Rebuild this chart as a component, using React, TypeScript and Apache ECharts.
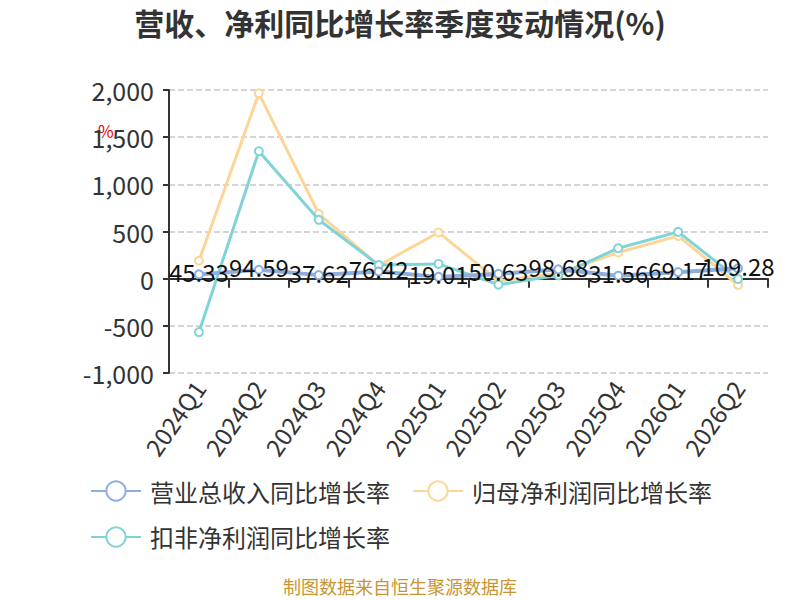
import React, { useEffect, useRef } from "react";
import * as echarts from "echarts";

const categories = ["2024Q1", "2024Q2", "2024Q3", "2024Q4", "2025Q1", "2025Q2", "2025Q3", "2025Q4", "2026Q1", "2026Q2"];
const revenueGrowth = [45.33, 94.59, 37.62, 76.42, 19.01, 50.63, 98.68, 31.56, 69.17, 109.28];
const netProfitGrowth = [190, 1965, 688, 140, 490, -25, 57, 277, 454, -67];
const deductedProfitGrowth = [-567, 1351, 624, 145, 156, -64, 35, 323, 496, -4];
const seriesNames = ["营业总收入同比增长率", "归母净利润同比增长率", "扣非净利润同比增长率"];
const titleText = "营收、净利同比增长率季度变动情况(%)";
const sourceText = "制图数据来自恒生聚源数据库";

const FONT = "'Noto Sans CJK SC', 'Noto Sans', sans-serif";

export default function App() {
  const ref = useRef<HTMLDivElement>(null);
  useEffect(() => {
    if (!ref.current) return;
    const chart = echarts.init(ref.current, undefined, { renderer: "svg" });
    chart.setOption({
      animation: false,
      backgroundColor: "#fff",
      textStyle: { fontFamily: FONT },
      title: {
        text: titleText,
        left: "center",
        top: 6,
        padding: 0,
        textStyle: { fontSize: 30, lineHeight: 32, fontWeight: "bold", color: "#333", fontFamily: FONT },
      },
      legend: {
        left: 85,
        top: 474,
        width: 650,
        itemWidth: 50,
        itemHeight: 24,
        itemGap: 22,
        textStyle: { fontSize: 24, color: "#333", fontFamily: FONT, padding: [0, 0, 0, 4] },
        data: seriesNames,
      },
      grid: { left: 169, right: 32, top: 90, bottom: 227, containLabel: false },
      xAxis: [
        {
          type: "category",
          data: categories,
          boundaryGap: true,
          axisLine: { onZero: true, lineStyle: { color: "#333", width: 2 } },
          axisTick: { show: true, length: 9, lineStyle: { color: "#333", width: 2 } },
          axisLabel: { show: false },
        },
        {
          type: "category",
          data: categories,
          position: "bottom",
          boundaryGap: true,
          axisLine: { show: false, onZero: false },
          axisTick: { show: false },
          axisLabel: { rotate: 55, fontSize: 24, color: "#333", margin: 10, fontFamily: FONT },
        },
      ],
      yAxis: {
        type: "value",
        min: -1000,
        max: 2000,
        interval: 500,
        axisLine: { show: true, lineStyle: { color: "#333", width: 2 } },
        axisTick: { show: true, length: 6, lineStyle: { color: "#333", width: 2 } },
        axisLabel: { fontSize: 25, color: "#333", margin: 15, fontFamily: FONT },
        splitLine: { lineStyle: { type: "dashed", color: "#c8c8c8", width: 1.5 } },
      },
      series: [
        {
          name: seriesNames[0],
          type: "line",
          data: revenueGrowth,
          xAxisIndex: 0,
          color: "#8eaee0",
          symbol: "emptyCircle",
          symbolSize: 8,
          lineStyle: { width: 4 },
          label: {
            show: true,
            position: "inside",
            offset: [0, -3],
            fontSize: 24,
            color: "#111",
            fontFamily: FONT,
            formatter: (p: any) => p.value.toFixed(2),
          },
          z: 5,
        },
        {
          name: seriesNames[1],
          type: "line",
          data: netProfitGrowth,
          xAxisIndex: 0,
          color: "#fdd597",
          symbol: "emptyCircle",
          symbolSize: 8,
          lineStyle: { width: 3 },
          z: 3,
        },
        {
          name: seriesNames[2],
          type: "line",
          data: deductedProfitGrowth,
          xAxisIndex: 0,
          color: "#80d4d8",
          symbol: "emptyCircle",
          symbolSize: 8,
          lineStyle: { width: 3 },
          z: 4,
        },
      ],
      graphic: [
        {
          type: "text",
          left: "center",
          top: 577,
          style: { text: sourceText, fill: "#c89530", fontSize: 18, fontFamily: FONT },
        },
        {
          type: "text",
          x: 98,
          y: 122,
          style: { text: "%", fill: "#e00", fontSize: 17, fontFamily: FONT },
        },
      ],
    });
    return () => chart.dispose();
  }, []);
  return (
    <div
      ref={ref}
      style={{ position: "absolute", left: 0, top: 0, width: 800, height: 600 }}
    />
  );
}
